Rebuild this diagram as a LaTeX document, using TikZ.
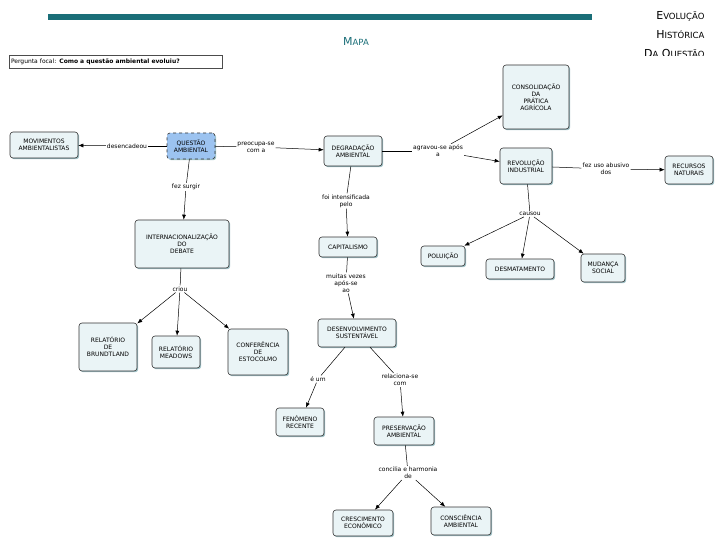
\documentclass[tikz,border=0pt]{standalone}
\usepackage{fontspec}
\setmainfont{DejaVu Sans}
\usetikzlibrary{arrows.meta,shadows}
\definecolor{teal1}{HTML}{1A6E78}
\definecolor{boxf}{HTML}{EAF4F6}
\definecolor{qf}{HTML}{9CC3F0}
\newcommand{\myrest}[1]{{\fontsize{8.5}{10}\selectfont #1}}
\begin{document}
\begin{tikzpicture}[x=1pt,y=-1pt,
  box/.style={draw=black!80,line width=0.6pt,rounded corners=3pt,fill=boxf,align=center,font=\fontsize{6}{7}\selectfont,inner sep=0pt,drop shadow={shadow xshift=1.2pt,shadow yshift=-1.2pt,fill=teal1!60,opacity=0.7}},
  lab/.style={align=center,font=\fontsize{6}{7}\selectfont,inner sep=1pt,fill=white},
  ln/.style={draw=black,line width=0.5pt},
  ar/.style={ln,-{Latex[length=5pt,width=4pt]}}]
\useasboundingbox (0,0) rectangle (720,540);
\fill[white] (0,0) rectangle (720,540);
% titles
\fill[teal1] (48,14) rectangle (592,20);
\node[font=\fontsize{11}{12}\selectfont,text=teal1] (t1) at (356,41) {M\myrest{APA}};
\node[font=\fontsize{11}{12}\selectfont,text=teal1] (t2) at (356,63) {C\myrest{ONCEITUAL}};
\node[font=\fontsize{11}{19}\selectfont,align=right,anchor=north east] (t3) at (708,8) {E\myrest{VOLUÇÃO}\\H\myrest{ISTÓRICA}\\D\myrest{A} Q\myrest{UESTÃO}};
\fill[white] (0,56) rectangle (720,540);
% focal
\node[draw=black!70,fill=white,font=\fontsize{6}{7}\selectfont,text width=209pt,minimum height=13pt,inner sep=2pt] (pf) at (115.5,62) {Pergunta focal: \textbf{Como a questão ambiental evoluiu?}};
% nodes
\node[box,minimum width=68pt,minimum height=26pt] (mov) at (44,145) {MOVIMENTOS\\AMBIENTALISTAS};
\node[box,fill=qf,dashed,minimum width=48pt,minimum height=26pt] (qa) at (191,146) {QUESTÃO\\AMBIENTAL};
\node[box,minimum width=58pt,minimum height=30pt] (deg) at (353,151) {DEGRADAÇÃO\\AMBIENTAL};
\node[box,minimum width=66pt,minimum height=64pt] (cons) at (536,97) {CONSOLIDAÇÃO\\DA\\PRÁTICA\\AGRÍCOLA};
\node[box,minimum width=52pt,minimum height=36pt] (rev) at (526,166) {REVOLUÇÃO\\INDUSTRIAL};
\node[box,minimum width=48pt,minimum height=28pt] (rec) at (689,170) {RECURSOS\\NATURAIS};
\node[box,minimum width=94pt,minimum height=48pt] (int) at (182,244) {INTERNACIONALIZAÇÃO\\DO\\DEBATE};
\node[box,minimum width=58pt,minimum height=20pt] (cap) at (348,247) {CAPITALISMO};
\node[box,minimum width=44pt,minimum height=20pt] (pol) at (443,256) {POLUIÇÃO};
\node[box,minimum width=68pt,minimum height=20pt] (des) at (520,269) {DESMATAMENTO};
\node[box,minimum width=44pt,minimum height=28pt] (mud) at (603,268) {MUDANÇA\\SOCIAL};
\node[box,minimum width=58pt,minimum height=48pt] (bru) at (108,347) {RELATÓRIO\\DE\\BRUNDTLAND};
\node[box,minimum width=48pt,minimum height=32pt] (mea) at (176,352) {RELATÓRIO\\MEADOWS};
\node[box,minimum width=60pt,minimum height=46pt] (est) at (258,352) {CONFERÊNCIA\\DE\\ESTOCOLMO};
\node[box,minimum width=78pt,minimum height=28pt] (ds) at (357,333) {DESENVOLVIMENTO\\SUSTENTÁVEL};
\node[box,minimum width=48pt,minimum height=28pt] (fen) at (300,422) {FENÔMENO\\RECENTE};
\node[box,minimum width=60pt,minimum height=28pt] (pre) at (404,431) {PRESERVAÇÃO\\AMBIENTAL};
\node[box,minimum width=60pt,minimum height=26pt] (cre) at (363,523) {CRESCIMENTO\\ECONÔMICO};
\node[box,minimum width=60pt,minimum height=28pt] (csc) at (461,521) {CONSCIÊNCIA\\AMBIENTAL};
% labels
\node[lab] (l1) at (127,146) {desencadeou};
\node[lab] (l2) at (256,147) {preocupa-se\\com a};
\node[lab] (l3) at (186,187) {fez surgir};
\node[lab] (l4) at (438,151) {agravou-se após\\a};
\node[lab] (l5) at (606,169) {fez uso abusivo\\dos};
\node[lab] (l6) at (346,201) {foi intensificada\\pelo};
\node[lab] (l7) at (530,214) {causou};
\node[lab] (l8) at (180,289) {criou};
\node[lab] (l9) at (346,283) {muitas vezes\\após-se\\ao};
\node[lab] (l10) at (318,379) {é um};
\node[lab] (l11) at (400,380) {relaciona-se\\com};
\node[lab] (l12) at (408,473) {concilia e harmonia\\de};
% links
\draw[ln] (qa) -- (l1); \draw[ar] (l1) -- (mov);
\draw[ln] (qa) -- (l2); \draw[ar] (l2) -- (deg);
\draw[ln] (qa) -- (l3); \draw[ar] (l3) -- (int);
\draw[ln] (deg) -- (l4); \draw[ar] (l4) -- (cons); \draw[ar] (l4) -- (rev);
\draw[ln] (rev) -- (l5); \draw[ar] (l5) -- (rec);
\draw[ln] (deg) -- (l6); \draw[ar] (l6) -- (cap);
\draw[ln] (rev) -- (l7); \draw[ar] (l7) -- (pol); \draw[ar] (l7) -- (des); \draw[ar] (l7) -- (mud);
\draw[ln] (int) -- (l8); \draw[ar] (l8) -- (bru); \draw[ar] (l8) -- (mea); \draw[ar] (l8) -- (est);
\draw[ln] (cap) -- (l9); \draw[ar] (l9) -- (ds);
\draw[ln] (ds) -- (l10); \draw[ar] (l10) -- (fen);
\draw[ln] (ds) -- (l11); \draw[ar] (l11) -- (pre);
\draw[ln] (pre) -- (l12); \draw[ar] (l12) -- (cre); \draw[ar] (l12) -- (csc);
\end{tikzpicture}
\end{document}
